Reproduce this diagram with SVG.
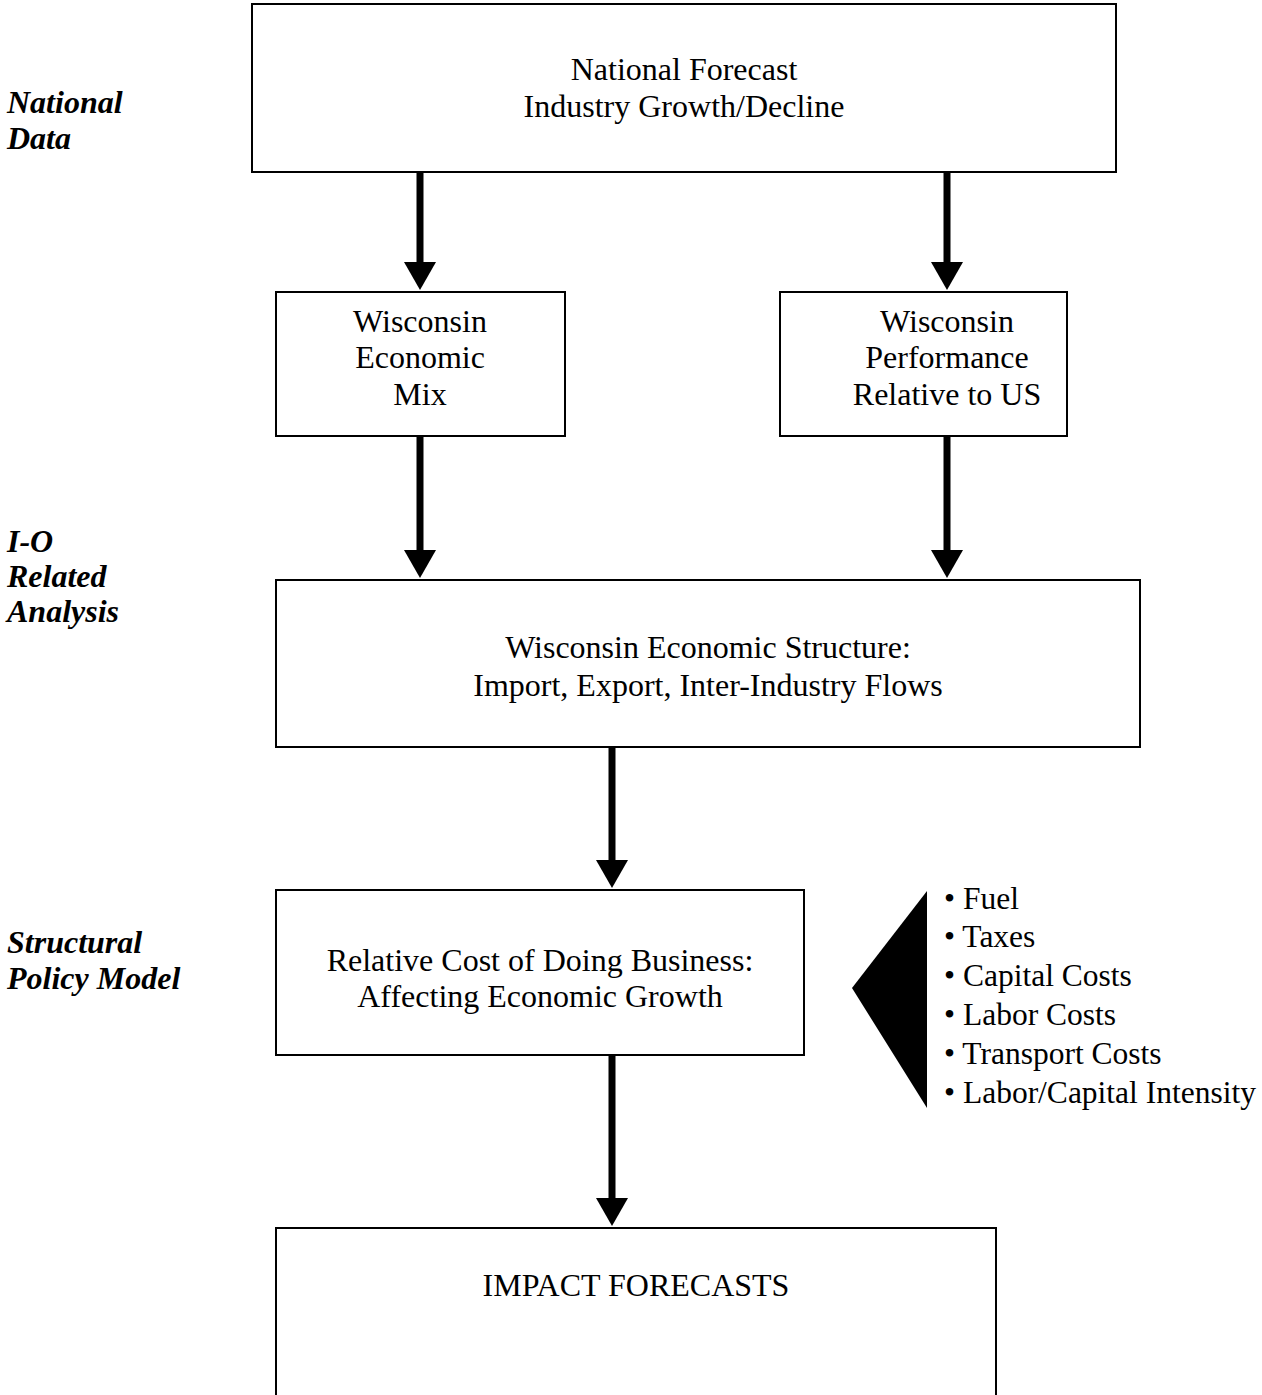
<svg xmlns="http://www.w3.org/2000/svg" width="1262" height="1395" viewBox="0 0 1262 1395">
<style>
.box{fill:#fff;stroke:#000;stroke-width:2}
.t{font-family:"Liberation Serif","Times New Roman",serif;font-size:32px;fill:#000;text-anchor:middle}
.b{font-family:"Liberation Serif","Times New Roman",serif;font-size:31.5px;fill:#000}
.lab{font-family:"Liberation Serif","Times New Roman",serif;font-size:32px;font-weight:bold;font-style:italic;fill:#000}
.sh{stroke:#000;stroke-width:7;fill:none}
</style>
<rect width="1262" height="1395" fill="#fff"/>
<g id="labels">
<text class="lab" x="7" y="113">National</text>
<text class="lab" x="7" y="149">Data</text>
<text class="lab" x="7" y="552">I-O</text>
<text class="lab" x="7" y="587">Related</text>
<text class="lab" x="7" y="622">Analysis</text>
<text class="lab" x="7" y="953">Structural</text>
<text class="lab" x="7" y="989">Policy Model</text>
</g>
<g id="connectors">
<path class="sh" d="M420,173 V262"/>
<path d="M404,262 L436,262 L420,290 Z"/>
<path class="sh" d="M947,173 V262"/>
<path d="M931,262 L963,262 L947,290 Z"/>
<path class="sh" d="M420,437 V550"/>
<path d="M404,550 L436,550 L420,578 Z"/>
<path class="sh" d="M947,437 V550"/>
<path d="M931,550 L963,550 L947,578 Z"/>
<path class="sh" d="M612,748 V860"/>
<path d="M596,860 L628,860 L612,888 Z"/>
<path class="sh" d="M612,1056 V1198"/>
<path d="M596,1198 L628,1198 L612,1226 Z"/>
</g>
<g id="n1">
<rect class="box" x="252" y="4" width="864" height="168"/>
<text class="t" x="684" y="80">National Forecast</text>
<text class="t" x="684" y="117">Industry Growth/Decline</text>
</g>
<g id="n2">
<rect class="box" x="276" y="292" width="289" height="144"/>
<text class="t" x="420" y="332">Wisconsin</text>
<text class="t" x="420" y="368">Economic</text>
<text class="t" x="420" y="405">Mix</text>
</g>
<g id="n3">
<rect class="box" x="780" y="292" width="287" height="144"/>
<text class="t" x="947" y="332">Wisconsin</text>
<text class="t" x="947" y="368">Performance</text>
<text class="t" x="947" y="405">Relative to US</text>
</g>
<g id="n4">
<rect class="box" x="276" y="580" width="864" height="167"/>
<text class="t" x="708" y="658">Wisconsin Economic Structure:</text>
<text class="t" x="708" y="696">Import, Export, Inter-Industry Flows</text>
</g>
<g id="n5">
<rect class="box" x="276" y="890" width="528" height="165"/>
<text class="t" x="540" y="971" font-size="31.5">Relative Cost of Doing Business:</text>
<text class="t" x="540" y="1007" font-size="31.5">Affecting Economic Growth</text>
</g>
<g id="n6">
<path d="M927,891 L927,1108 L852,988 Z" fill="#000"/>
<text class="b" x="944" y="909">• Fuel</text>
<text class="b" x="944" y="947">• Taxes</text>
<text class="b" x="944" y="986">• Capital Costs</text>
<text class="b" x="944" y="1025">• Labor Costs</text>
<text class="b" x="944" y="1064">• Transport Costs</text>
<text class="b" x="944" y="1103">• Labor/Capital Intensity</text>
</g>
<g id="n7">
<rect class="box" x="276" y="1228" width="720" height="180"/>
<text class="t" x="636" y="1296">IMPACT FORECASTS</text>
</g>
</svg>
